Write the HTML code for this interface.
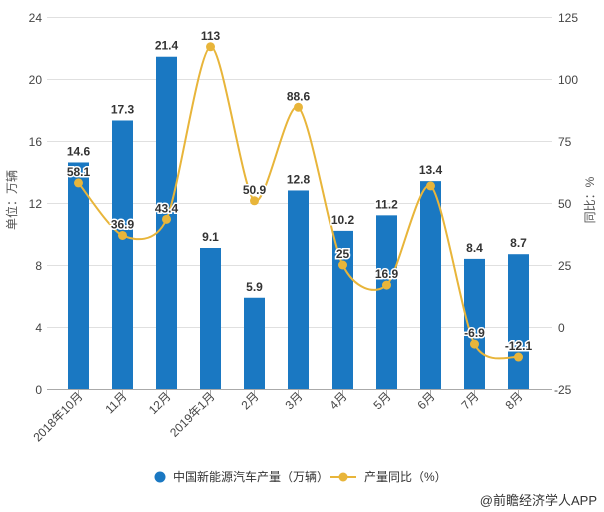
<!DOCTYPE html>
<html><head><meta charset="utf-8"><style>
body{margin:0;background:#fff;}
svg{display:block;font-family:"Liberation Sans","Noto Sans CJK SC",sans-serif;}
</style></head><body>
<svg id="c" width="604" height="512" xmlns="http://www.w3.org/2000/svg">
<g stroke="#e0e0e0" stroke-width="1">
<line x1="47" x2="552" y1="17.5" y2="17.5"/>
<line x1="47" x2="552" y1="79.5" y2="79.5"/>
<line x1="47" x2="552" y1="141.5" y2="141.5"/>
<line x1="47" x2="552" y1="203.5" y2="203.5"/>
<line x1="47" x2="552" y1="265.5" y2="265.5"/>
<line x1="47" x2="552" y1="327.5" y2="327.5"/>
</g>
<g font-size="12" fill="#444" text-anchor="end">
<text x="42" y="22">24</text><text x="42" y="84">20</text><text x="42" y="146">16</text>
<text x="42" y="208">12</text><text x="42" y="270">8</text><text x="42" y="332">4</text><text x="42" y="394">0</text>
</g>
<g font-size="12" fill="#444" text-anchor="start">
<text x="558" y="22">125</text><text x="558" y="84">100</text><text x="558" y="146">75</text>
<text x="558" y="208">50</text><text x="558" y="270">25</text><text x="558" y="332">0</text><text x="554" y="394">-25</text>
</g>
<text transform="translate(16,200) rotate(-90)" font-size="12" fill="#555" text-anchor="middle">单位：万辆</text>
<text transform="translate(594,200) rotate(-90)" font-size="12" fill="#555" text-anchor="middle">同比：%</text>
<g id="bars"></g>
<line x1="47" x2="552" y1="389.5" y2="389.5" stroke="#aaa"/>
<g id="ticks"></g>
<path id="ln" fill="none" stroke="#e8b53a" stroke-width="2"/>
<g id="pts"></g>
<g id="lbls"></g>
<circle cx="160" cy="477" r="5.5" fill="#1a78c2"/>
<text x="173" y="481" font-size="12" fill="#333">中国新能源汽车产量（万辆）</text>
<line x1="330" x2="356" y1="477" y2="477" stroke="#e8b53a" stroke-width="2"/>
<circle cx="343" cy="477" r="4.5" fill="#e8b53a"/>
<text x="364" y="481" font-size="12" fill="#333">产量同比（%）</text>
<text x="597" y="505" font-size="13" fill="#333" text-anchor="end">@前瞻经济学人APP</text>
</svg>
<script>
var b=[14.6,17.3,21.4,9.1,5.9,12.8,10.2,11.2,13.4,8.4,8.7];
var p=[58.1,36.9,43.4,113,50.9,88.6,25,16.9,56.9,-6.9,-12.1];
var pl=["58.1","36.9","43.4","113","50.9","88.6","25","16.9","","-6.9","-12.1"];
var cat=["2018年10月","11月","12月","2019年1月","2月","3月","4月","5月","6月","7月","8月"];
var ns="http://www.w3.org/2000/svg";
function el(t,a,txt){var e=document.createElementNS(ns,t);for(var k in a)e.setAttribute(k,a[k]);if(txt!==undefined)e.textContent=txt;return e;}
var B=document.getElementById("bars"),T=document.getElementById("ticks"),P=document.getElementById("pts"),L=document.getElementById("lbls");
var xs=[],ys=[];
for(var i=0;i<11;i++){
 var cx=78.5+i*44, y0=389.5, h=b[i]*15.55;
 B.appendChild(el("rect",{x:cx-10.5,y:y0-h,width:21,height:h,fill:"#1a78c2"}));
 T.appendChild(el("line",{x1:cx,x2:cx,y1:389.5,y2:395,stroke:"#aaa"}));
 T.appendChild(el("text",{transform:"translate("+(cx+5)+",397) rotate(-45)","text-anchor":"end","font-size":"12",fill:"#444"},cat[i]));
 L.appendChild(el("text",{x:cx,y:y0-h-7,"text-anchor":"middle","font-size":"12","font-weight":"bold",fill:"#333",stroke:"#fff","stroke-width":"3","paint-order":"stroke"},b[i].toFixed(1)));
 var py=327-p[i]*2.48; xs.push(cx); ys.push(py);
}
var d="M"+xs[0]+","+ys[0], k=7.5;
for(var i=0;i<10;i++){
 var x0=xs[Math.max(i-1,0)],y0=ys[Math.max(i-1,0)],x3=xs[Math.min(i+2,10)],y3=ys[Math.min(i+2,10)];
 var c1x=xs[i]+(xs[i+1]-x0)/k,c1y=ys[i]+(ys[i+1]-y0)/k,c2x=xs[i+1]-(x3-xs[i])/k,c2y=ys[i+1]-(y3-ys[i])/k;
 d+=" C"+c1x+","+c1y+" "+c2x+","+c2y+" "+xs[i+1]+","+ys[i+1];
}
document.getElementById("ln").setAttribute("d",d);
for(var i=0;i<11;i++){
 P.appendChild(el("circle",{cx:xs[i],cy:ys[i],r:4.5,fill:"#e8b53a"}));
 if(pl[i])L.appendChild(el("text",{x:xs[i],y:ys[i]-7,"text-anchor":"middle","font-size":"12","font-weight":"bold",fill:"#333",stroke:"#fff","stroke-width":"3","paint-order":"stroke"},pl[i]));
}
</script>
</body></html>
